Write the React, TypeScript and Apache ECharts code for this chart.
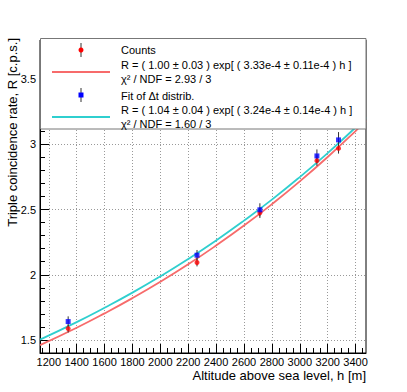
import React, { useEffect, useRef } from "react";
import * as echarts from "echarts";

// Measured points
const altitudes = [1339, 2263, 2714, 3123, 3278];
const countsRate = [1.587, 2.094, 2.475, 2.875, 2.969];
const countsErr = [0.03, 0.03, 0.04, 0.04, 0.04];
const fitRate = [1.641, 2.15, 2.498, 2.911, 3.034];
const fitErr = [0.04, 0.04, 0.05, 0.05, 0.06];

// Fit curves
const curveAlt = [1137, 1400, 1600, 1800, 2000, 2200, 2400, 2600, 2800, 3000, 3200, 3400, 3475];
const countsCurve = [1.46, 1.594, 1.704, 1.821, 1.946, 2.08, 2.224, 2.377, 2.541, 2.716, 2.903, 3.102, 3.181];
const fitCurve = [1.503, 1.637, 1.747, 1.863, 1.988, 2.121, 2.263, 2.415, 2.576, 2.749, 2.933, 3.129, 3.206];

// Axis ticks
const xMajor = [1200, 1400, 1600, 1800, 2000, 2200, 2400, 2600, 2800, 3000, 3200, 3400];
const xMinor = [1150, 1250, 1300, 1350, 1450, 1500, 1550, 1650, 1700, 1750, 1850, 1900, 1950, 2050, 2100, 2150, 2250, 2300, 2350, 2450, 2500, 2550, 2650, 2700, 2750, 2850, 2900, 2950, 3050, 3100, 3150, 3250, 3300, 3350, 3450];
const yMajor = [1.5, 2, 2.5, 3, 3.5];
const yMinor = [1.6, 1.7, 1.8, 1.9, 2.1, 2.2, 2.3, 2.4, 2.6, 2.7, 2.8, 2.9, 3.1, 3.2, 3.3, 3.4, 3.6, 3.7];

const legendLabels = [
  "Counts",
  "R = ( 1.00 \u00b1 0.03 ) exp[ ( 3.33e-4 \u00b1 0.11e-4 ) h ]",
  "\u03c7\u00b2 / NDF = 2.93 / 3",
  "Fit of \u0394t distrib.",
  "R = ( 1.04 \u00b1 0.04 ) exp[ ( 3.24e-4 \u00b1 0.14e-4 ) h ]",
  "\u03c7\u00b2 / NDF = 1.60 / 3",
];

const FONT = "'Liberation Sans', Arial, Helvetica, sans-serif";
const RED = "#ff0000";
const BLUE = "#0000ff";
const RED_LINE = "#f76b6b";
const CYAN_LINE = "#2fcfcf";

export default function App() {
  const ref = useRef<HTMLDivElement>(null);
  useEffect(() => {
    if (!ref.current) return;
    const chart = echarts.init(ref.current, null, { renderer: "svg" });
    const xMin = 1137;
    const xMax = 3475;
    const yMin = 1.4;
    const yMax = 3.8;

    const errSeries = (vals: number[], errs: number[]) => ({
      type: "custom",
      xAxisIndex: 0,
      yAxisIndex: 0,
      data: altitudes.map((a, i) => [a, vals[i], errs[i]]),
      renderItem: (params: any, api: any) => {
        const x = api.value(0);
        const y = api.value(1);
        const e = api.value(2);
        const p1 = api.coord([x, y - e]);
        const p2 = api.coord([x, y + e]);
        return {
          type: "line",
          shape: { x1: p1[0], y1: p1[1], x2: p2[0], y2: p2[1] },
          style: { stroke: "#333", lineWidth: 1 },
        };
      },
      z: 3,
    });

    const legendX = 121;
    const rowsY = [50, 65, 79, 96, 110, 124];

    chart.setOption({
      animation: false,
      grid: {
        left: 40,
        top: 40,
        width: 326,
        height: 313,
        show: true,
        borderColor: "#000",
        borderWidth: 1,
        backgroundColor: "transparent",
      },
      xAxis: [
        {
          type: "value",
          min: xMin,
          max: xMax,
          position: "bottom",
          axisLine: { show: true, lineStyle: { color: "#000", width: 1 } },
          axisTick: { show: true, inside: true, length: 9, customValues: xMajor, lineStyle: { color: "#000" } },
          axisLabel: {
            show: true,
            customValues: xMajor,
            margin: 3,
            fontSize: 11,
            lineHeight: 11,
            color: "#000",
            fontFamily: FONT,
            formatter: (v: number) => String(v),
          },
          splitLine: { show: true, lineStyle: { color: "#999", type: [1, 2], width: 1 } },
        },
        {
          type: "value",
          min: xMin,
          max: xMax,
          position: "bottom",
          axisLine: { show: false },
          axisTick: { show: true, inside: true, length: 5, customValues: xMinor, lineStyle: { color: "#000" } },
          axisLabel: { show: false },
          splitLine: { show: false },
        },
      ],
      yAxis: [
        {
          type: "value",
          min: yMin,
          max: yMax,
          position: "left",
          axisLine: { show: true, lineStyle: { color: "#000", width: 1 } },
          axisTick: { show: true, inside: true, length: 9, customValues: yMajor, lineStyle: { color: "#000" } },
          axisLabel: {
            show: true,
            customValues: yMajor,
            margin: 4,
            fontSize: 11,
            color: "#000",
            fontFamily: FONT,
            formatter: (v: number) => String(v),
          },
          splitLine: { show: true, lineStyle: { color: "#999", type: [1, 2], width: 1 } },
        },
        {
          type: "value",
          min: yMin,
          max: yMax,
          position: "left",
          axisLine: { show: false },
          axisTick: { show: true, inside: true, length: 5, customValues: yMinor, lineStyle: { color: "#000" } },
          axisLabel: { show: false },
          splitLine: { show: false },
        },
      ],
      series: [
        {
          type: "line",
          data: curveAlt.map((a, i) => [a, countsCurve[i]]),
          smooth: true,
          showSymbol: false,
          lineStyle: { color: RED_LINE, width: 1.8 },
          clip: true,
          z: 2,
        },
        {
          type: "line",
          data: curveAlt.map((a, i) => [a, fitCurve[i]]),
          smooth: true,
          showSymbol: false,
          lineStyle: { color: CYAN_LINE, width: 1.8 },
          clip: true,
          z: 2,
        },
        errSeries(countsRate, countsErr),
        errSeries(fitRate, fitErr),
        {
          type: "scatter",
          data: altitudes.map((a, i) => [a, countsRate[i]]),
          symbol: "circle",
          symbolSize: 5,
          itemStyle: { color: RED },
          z: 4,
        },
        {
          type: "scatter",
          data: altitudes.map((a, i) => [a, fitRate[i]]),
          symbol: "rect",
          symbolSize: 5,
          itemStyle: { color: BLUE },
          z: 4,
        },
      ],
      graphic: [
        {
          type: "text",
          x: 12,
          y: 38,
          rotation: Math.PI / 2,
          style: {
            text: "Triple coincidence rate, R [c.p.s.]",
            fontSize: 13,
            fontFamily: FONT,
            fill: "#000",
            align: "right",
            verticalAlign: "middle",
          },
        },
        {
          type: "text",
          x: 366,
          y: 375,
          style: {
            text: "Altitude above sea level, h [m]",
            fontSize: 13,
            lineHeight: 13,
            fontFamily: FONT,
            fill: "#000",
            align: "right",
            verticalAlign: "middle",
          },
        },
        {
          type: "group",
          z: 100,
          children: [
            {
              type: "rect",
              shape: { x: 40.5, y: 38.5, width: 325.5, height: 90.5 },
              style: { fill: "#fff", stroke: "#777", lineWidth: 1 },
              z: 100,
            },
            { type: "line", shape: { x1: 81, y1: 43, x2: 81, y2: 57 }, style: { stroke: "#333", lineWidth: 1 }, z: 101 },
            { type: "circle", shape: { cx: 81, cy: 50, r: 2.5 }, style: { fill: RED }, z: 102 },
            { type: "line", shape: { x1: 52, y1: 72, x2: 110, y2: 72 }, style: { stroke: RED_LINE, lineWidth: 1.8 }, z: 101 },
            { type: "line", shape: { x1: 81, y1: 88, x2: 81, y2: 102 }, style: { stroke: "#333", lineWidth: 1 }, z: 101 },
            { type: "rect", shape: { x: 78.5, y: 92.5, width: 5, height: 5 }, style: { fill: BLUE }, z: 102 },
            { type: "line", shape: { x1: 52, y1: 117, x2: 110, y2: 117 }, style: { stroke: CYAN_LINE, lineWidth: 1.8 }, z: 101 },
            ...legendLabels.map((t, i) => ({
              type: "text",
              x: legendX,
              y: rowsY[i],
              z: 103,
              style: {
                text: t,
                fontSize: 11,
                fontFamily: FONT,
                fill: "#000",
                align: "left",
                verticalAlign: "middle",
              },
            })),
          ],
        },
      ],
    });
    return () => chart.dispose();
  }, []);
  return (
    <div
      ref={ref}
      style={{ position: "absolute", left: 0, top: 0, width: 407, height: 392, background: "#fff" }}
    />
  );
}
